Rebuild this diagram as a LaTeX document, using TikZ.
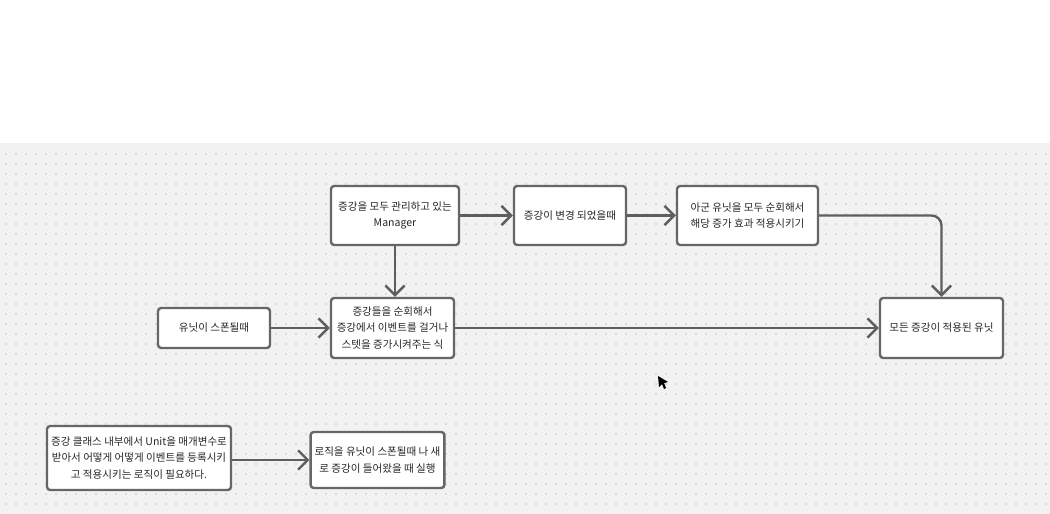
\documentclass[tikz,border=0pt]{standalone}
\usepackage{fontspec}
\setmainfont{Noto Sans CJK KR}
\usepackage{xcolor}
\usepackage{tikz}
\usetikzlibrary{arrows.meta,positioning,calc}
\definecolor{boardgray}{HTML}{F2F2F2}
\definecolor{dotgray}{HTML}{C4C4C4}
\definecolor{edgegray}{HTML}{666666}
\definecolor{linkgray}{HTML}{5E5E5E}
\tikzset{
  blk/.style={draw=edgegray, line width=1.7pt, fill=white, rounded corners=0.8mm,
    align=center, inner sep=1mm, text=black!85,
    font=\fontsize{7.5}{11.5}\selectfont},
  link/.style={draw=linkgray, line width=1.7pt, -{Straight Barb[length=2.4mm, width=4.8mm]}}
}

\begin{document}
\begin{tikzpicture}[x=0.25mm, y=-0.25mm]
\useasboundingbox (0,0) rectangle (1050,514);
\fill[white] (0,0) rectangle (1050,514);
\fill[boardgray] (0,143) rectangle (1050,514);
\foreach \gx in {6,16,...,1046}
  \foreach \gy in {154,164,...,504}
    \fill[dotgray] (\gx,\gy) circle (0.2mm);

\node[blk, minimum width=32mm, minimum height=14.75mm] (mgr) at (395,215.5) {증강을 모두 관리하고 있는\\Manager};
\node[blk, minimum width=28mm, minimum height=14.75mm] (chg) at (570,215.5) {증강이 변경 되었을때};
\node[blk, minimum width=35.25mm, minimum height=14.75mm] (ally) at (747.5,215.5) {아군 유닛을 모두 순회해서\\해당 증가 효과 적용시키기};
\node[blk, minimum width=28mm, minimum height=10mm] (spawn) at (214,328) {유닛이 스폰될때};
\node[blk, minimum width=30.75mm, minimum height=15mm] (loop) at (392.5,328) {증강들을 순회해서\\증강에서 이벤트를 걸거나\\스텟을 증가시켜주는 식};
\node[blk, minimum width=30.75mm, minimum height=15mm] (done) at (941.5,328) {모든 증강이 적용된 유닛};
\node[blk, minimum width=46mm, minimum height=16mm] (need) at (139,458) {증강 클래스 내부에서 Unit을 매개변수로\\받아서 어떻게 어떻게 이벤트를 등록시키\\고 적용시키는 로직이 필요하다.};
\node[blk, minimum width=33.25mm, minimum height=14mm] (run) at (377.5,460) {로직을 유닛이 스폰될때 나 새\\로 증강이 들어왔을 때 실행};

\draw[link] (mgr) -- (chg);
\draw[link] (chg) -- (ally);
\draw[link, rounded corners=2.5mm] (ally.east) -| (done.north);
\draw[link] (mgr.south) -- (mgr.south |- loop.north);
\draw[link] (spawn) -- (loop);
\draw[link] (loop) -- (done);
\draw[link] (need.east |- run) -- (run);

% mouse pointer
\fill[black] (658,376) -- (668,382) -- (664,383) -- (666,388) -- (664,389) -- (662,384) -- (659,387) -- cycle;
\end{tikzpicture}
\end{document}
